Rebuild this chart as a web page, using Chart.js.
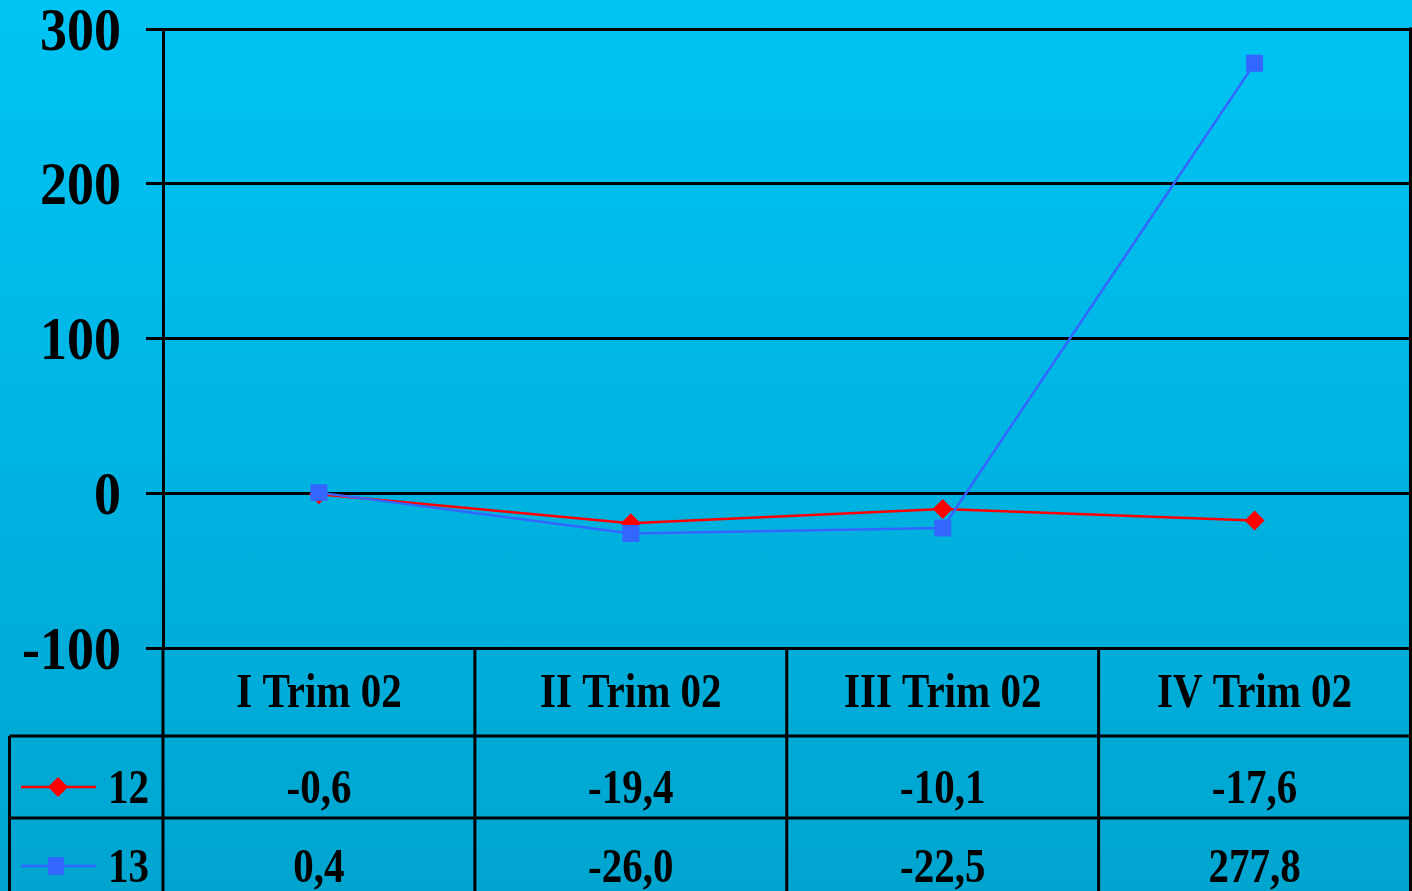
<!DOCTYPE html>
<html><head><meta charset="utf-8">
<script src="https://cdn.jsdelivr.net/npm/chart.js@4.4.1/dist/chart.umd.min.js"></script>
<style>
html,body{margin:0;padding:0;overflow:hidden;}
body{width:1412px;height:891px;background:linear-gradient(to bottom,#00C4F4 0%,#00B4E3 50%,#00A5CF 100%);}
canvas{display:block;}
</style></head><body>
<canvas id="c" width="1412" height="891"></canvas>
<script>
const categories = ['I Trim 02', 'II Trim 02', 'III Trim 02', 'IV Trim 02'];
const seriesNames = ['12', '13'];
const series12 = [-0.6, -19.4, -10.1, -17.6];
const series13 = [0.4, -26.0, -22.5, 277.8];
const yMin = -100, yMax = 300, yStep = 100;

const RED = '#FF0000', BLUE = '#3366FF';
const H = 891;

function fmt(v){ return v.toFixed(1).replace('.', ','); }
function stretchedText(ctx, txt, x, y, sy){
  ctx.save(); ctx.translate(x, y); ctx.scale(1, sy); ctx.fillText(txt, 0, 0); ctx.restore();
}
function line(ctx, x1, y1, x2, y2){ ctx.beginPath(); ctx.moveTo(x1, y1); ctx.lineTo(x2, y2); ctx.stroke(); }

const tablePlugin = {
  id: 'dataTable',
  afterDraw(chart){
    const ctx = chart.ctx, ca = chart.chartArea, xs = chart.scales.x, ys = chart.scales.y;
    ctx.save();
    ctx.fillStyle = '#000';
    // y tick labels
    ctx.font = 'bold 54px "Liberation Serif"';
    ctx.textAlign = 'right'; ctx.textBaseline = 'alphabetic';
    ys.ticks.forEach(t => {
      const y = ys.getPixelForValue(t.value);
      stretchedText(ctx, String(t.value), 121, y + 20.5, 1.13);
    });
    // lines
    ctx.strokeStyle = '#000'; ctx.lineWidth = 3;
    line(ctx, ca.right, ca.top - 1.5, ca.right, H);
    line(ctx, ca.left, ca.bottom, ca.left, H);
    const step = xs.getPixelForValue(1) - xs.getPixelForValue(0);
    for (let i = 0; i < categories.length - 1; i++) {
      const bx = xs.getPixelForValue(i) + step / 2;
      line(ctx, bx, ca.bottom, bx, H);
    }
    const row1 = 736, row2 = 818, leftX = 9.5;
    line(ctx, leftX, row1, ca.right, row1);
    line(ctx, leftX, row2, ca.right, row2);
    line(ctx, leftX, row1, leftX, H);
    // header and values
    ctx.font = 'bold 41px "Liberation Serif"';
    ctx.textAlign = 'center';
    categories.forEach((c, i) => {
      const x = xs.getPixelForValue(i);
      stretchedText(ctx, c, x, 707, 1.17);
      stretchedText(ctx, fmt(series12[i]), x, 803, 1.17);
      stretchedText(ctx, fmt(series13[i]), x, 882, 1.17);
    });
    // legend keys
    ctx.textAlign = 'left';
    stretchedText(ctx, seriesNames[0], 108, 803, 1.17);
    stretchedText(ctx, seriesNames[1], 108, 882, 1.17);
    ctx.lineWidth = 2.5;
    ctx.strokeStyle = RED; line(ctx, 21, 787, 96, 787);
    ctx.fillStyle = RED;
    ctx.beginPath(); ctx.moveTo(58, 777); ctx.lineTo(68, 787); ctx.lineTo(58, 797); ctx.lineTo(48, 787); ctx.closePath(); ctx.fill();
    ctx.strokeStyle = BLUE; line(ctx, 21, 866, 96, 866);
    ctx.fillStyle = BLUE; ctx.fillRect(48, 857, 16, 18);
    ctx.restore();
  }
};

new Chart(document.getElementById('c'), {
  type: 'line',
  data: {
    labels: categories,
    datasets: [
      { label: seriesNames[0], data: series12, borderColor: RED, backgroundColor: RED, borderWidth: 2.5,
        pointStyle: 'rectRot', pointRadius: 10, pointBorderWidth: 0, pointBackgroundColor: RED, tension: 0, order: 2 },
      { label: seriesNames[1], data: series13, borderColor: BLUE, backgroundColor: BLUE, borderWidth: 2.5,
        pointStyle: 'rect', pointRadius: 12, pointBorderWidth: 0, pointBackgroundColor: BLUE, tension: 0, order: 1 }
    ]
  },
  options: {
    responsive: false, animation: false,
    layout: { autoPadding: false, padding: { top: 29, right: 1.5, bottom: 243, left: 0 } },
    plugins: { legend: { display: false }, tooltip: { enabled: false } },
    scales: {
      x: { type: 'category', display: false, offset: true },
      y: {
        min: yMin, max: yMax,
        ticks: { display: false, stepSize: yStep },
        grid: { color: '#000', lineWidth: 3, tickLength: 17, drawTicks: true },
        border: { display: true, color: '#000', width: 3 },
        afterFit(s){ s.width = 163; }
      }
    }
  },
  plugins: [tablePlugin]
});
</script>
</body></html>
